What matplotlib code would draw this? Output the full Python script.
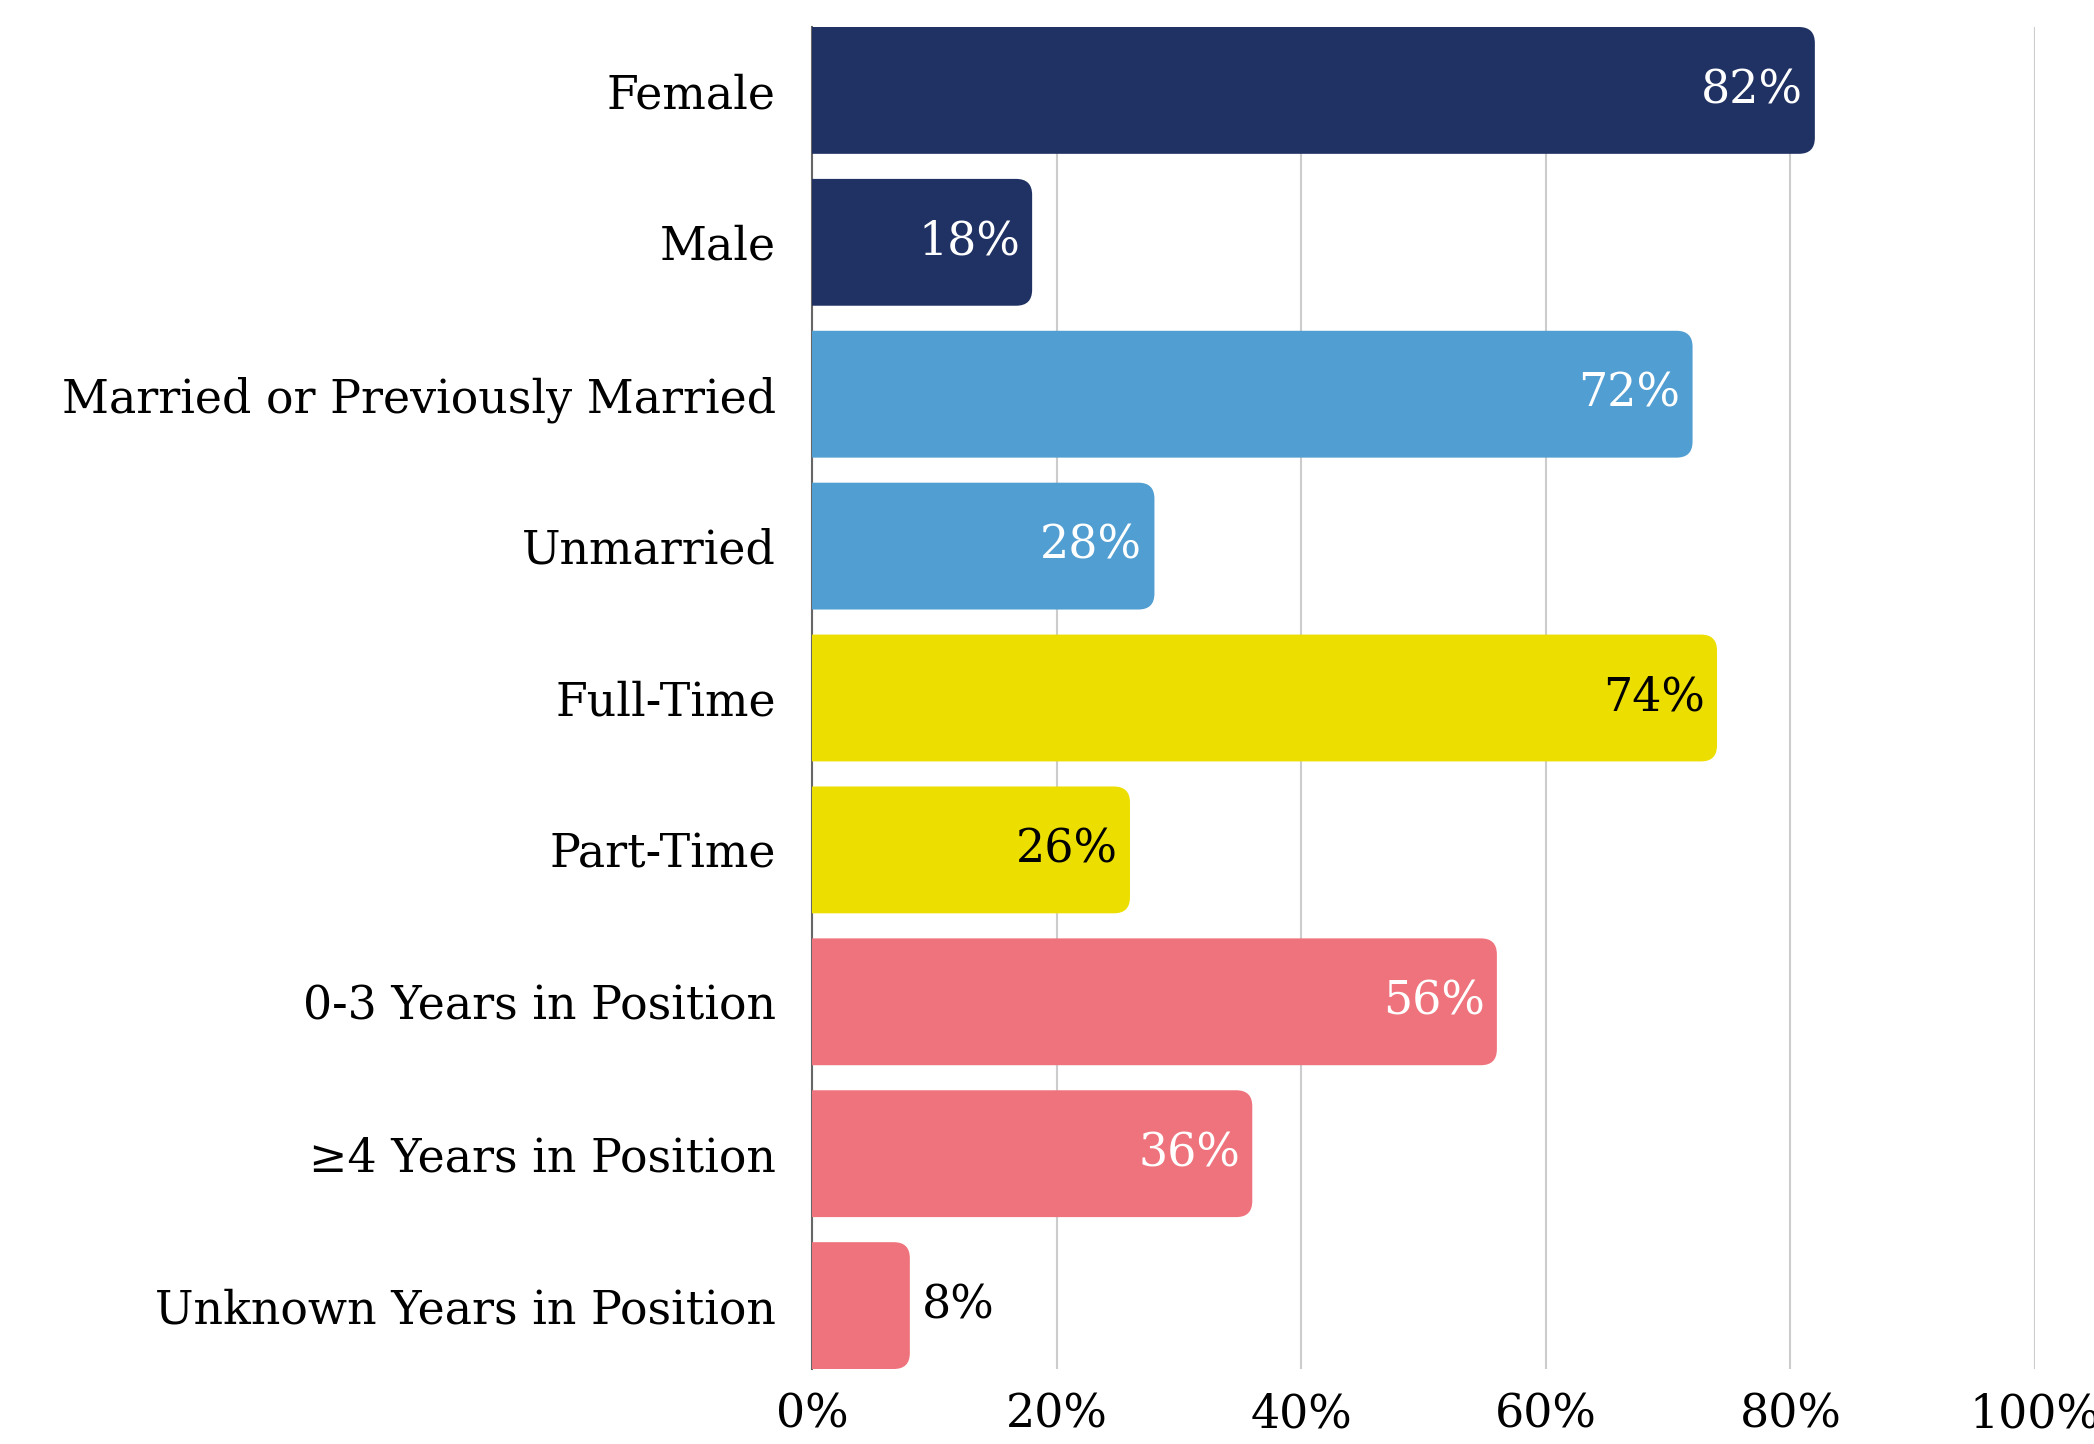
import matplotlib
matplotlib.use("Agg")
import matplotlib.pyplot as plt
from matplotlib.patches import FancyBboxPatch

categories = ["Female", "Male", "Married or Previously Married", "Unmarried",
              "Full-Time", "Part-Time", "0-3 Years in Position",
              "\u22654 Years in Position", "Unknown Years in Position"]
values = [82, 18, 72, 28, 74, 26, 56, 36, 8]
colors = ["#203264", "#203264", "#519ED2", "#519ED2", "#ECDF00", "#ECDF00",
          "#EF737C", "#EF737C", "#EF737C"]
text_colors = ["white", "white", "white", "white", "black", "black",
               "white", "white", "black"]
xticks = [0, 20, 40, 60, 80, 100]
xticklabels = ["0%", "20%", "40%", "60%", "80%", "100%"]

plt.rcParams['font.family'] = ['DejaVu Serif']
fs = 33

fig = plt.figure(figsize=(20.94, 14.44), dpi=100)
ax = fig.add_axes([812 / 2094, 1 - 1369 / 1444, (2035 - 812) / 2094, (1369 - 27) / 1444])

h = 0.835
ypos = list(range(len(categories)))
bars = ax.barh(ypos, values, height=h, color="none")

# pixels per data unit, used for round corners
px_x = (2035 - 812) / 100
px_y = (1369 - 27) / (len(categories) - 1 + h)
r = 16 / px_x

# rounded box starts left of the axis, the axes clip squares off the left side
for b, c in zip(bars, colors):
    x0, y0, w, hh = b.get_x(), b.get_y(), b.get_width(), b.get_height()
    ax.add_patch(FancyBboxPatch((x0 - 3 * r, y0), w + 3 * r, hh,
                                boxstyle=f"round,pad=0,rounding_size={r}",
                                mutation_aspect=px_x / px_y, fc=c, ec="none", zorder=2))

for y, v, tc in zip(ypos, values, text_colors):
    if v < 12:
        ax.text(v + 1.0, y, f"{v}%", ha="left", va="center", fontsize=fs, color=tc, zorder=3)
    else:
        ax.text(v - 1.0, y, f"{v}%", ha="right", va="center", fontsize=fs, color=tc, zorder=3)

ax.set_xlim(0, 100)
ax.set_ylim(len(categories) - 1 + h / 2, -h / 2)
ax.set_yticks(ypos)
ax.set_yticklabels(categories, fontsize=fs)
ax.set_xticks(xticks)
ax.set_xticklabels(xticklabels, fontsize=fs)
ax.tick_params(axis="both", length=0)
ax.tick_params(axis="y", pad=26)
ax.tick_params(axis="x", pad=17)

ax.grid(axis="x", color="#cccccc", linewidth=1.5, zorder=0)
ax.set_axisbelow(True)
for s in ["top", "right", "bottom"]:
    ax.spines[s].set_visible(False)
ax.spines["left"].set_color("#666666")
ax.spines["left"].set_linewidth(1.5)
ax.spines["left"].set_zorder(1)

fig.savefig("out.png", dpi=100)
